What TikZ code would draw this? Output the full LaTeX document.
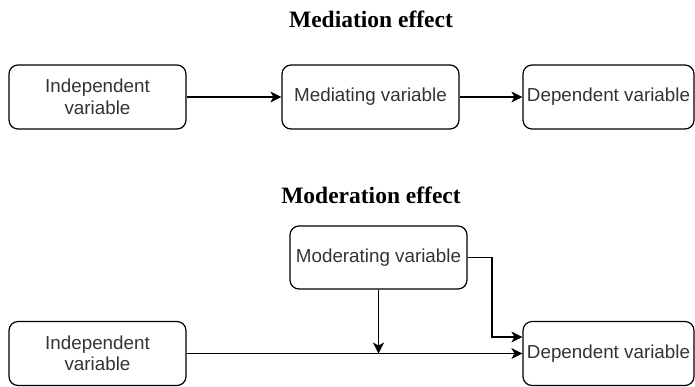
\documentclass[tikz,border=0pt]{standalone}
\usepackage{fontspec}
\setmainfont{Liberation Serif}
\setsansfont{Liberation Sans}
\usetikzlibrary{arrows.meta}
\begin{document}
\begin{tikzpicture}[
  x=1pt,
  y=-1pt,
  var/.style={draw, rounded corners=9pt, line width=1.2pt, text=black!80,
    font=\sffamily\fontsize{18.8}{21.5}\selectfont, align=center,
    inner sep=0pt, minimum height=64pt, minimum width=177pt},
  title/.style={font=\bfseries\fontsize{23.5}{28}\selectfont},
  link/.style={line width=1.2pt, -{Stealth[length=11pt,width=11pt,inset=3pt]}}
]
\useasboundingbox (0,0) rectangle (695,386);
\node[title] (medtitle) at (371,19) {Mediation effect};
\node[var] (ind1) at (97.5,97) {Independent\\variable};
\node[var] (med) at (370.5,97) {Mediating variable};
\node[var, minimum width=171pt] (dep1) at (608.5,97) {Dependent variable};
\draw[link] (ind1) -- (med);
\draw[link] (med) -- (dep1);

\node[title] (modtitle) at (371,195) {Moderation effect};
\node[var, minimum height=63pt] (mod) at (378.5,257.5) {Moderating variable};
\node[var] (ind2) at (97.5,353.5) {Independent\\variable};
\node[var, minimum width=171pt] (dep2) at (608.5,353.5) {Dependent variable};
\coordinate (meet) at (mod.south |- ind2.east);
\coordinate (bend) at (492,337);
\draw[link] (ind2) -- (dep2);
\draw[link] (mod) -- (meet);
\draw[link] (mod.east) -| (bend) -- (bend -| dep2.west);
\end{tikzpicture}
\end{document}
